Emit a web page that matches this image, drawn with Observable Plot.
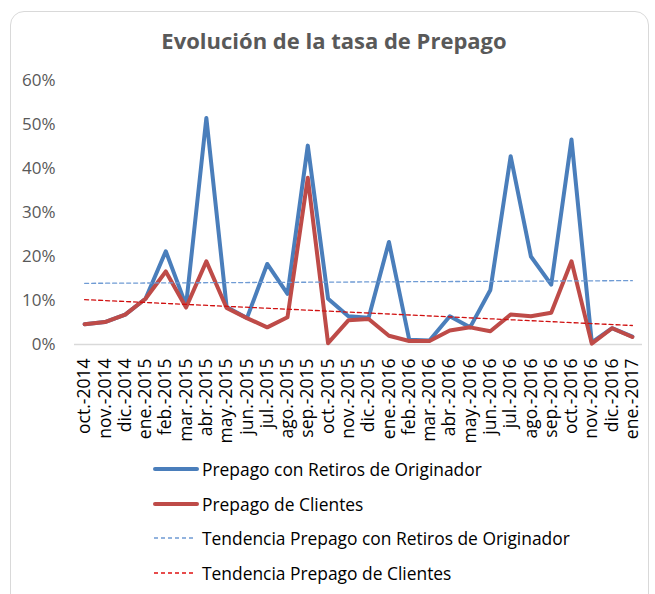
<!DOCTYPE html>
<html>
<head>
<meta charset="utf-8">
<script src="https://cdn.jsdelivr.net/npm/d3@7"></script>
<script src="https://cdn.jsdelivr.net/npm/@observablehq/plot@0.6"></script>
<style>
  body { margin: 0; background: #fff; }
  #wrap { position: relative; width: 655px; height: 594px; overflow: hidden; font-family: "Open Sans", sans-serif; }
  #frame { position: absolute; left: 10px; top: 11px; width: 639px; height: 600px; border: 1px solid #d9d9d9; border-radius: 14px; box-sizing: border-box; }
  #title { position: absolute; left: 0; width: 668px; top: 29px; line-height: 22px; text-align: center; font-weight: bold; font-size: 22px; color: #595959; }
  #chart { position: absolute; left: 0; top: 0; }
  #chart g[aria-label="y-axis tick label"] { font-size: 17px; }
  #chart g[aria-label="x-axis tick label"] { font-size: 17.5px; }
  .leg { position: absolute; left: 153px; height: 30px; display: flex; align-items: center; font-size: 17.4px; color: #000; }
  .leg svg { margin-right: 3px; }
</style>
</head>
<body>
<div id="wrap">
  <div id="frame"></div>
  <div id="title">Evolución de la tasa de Prepago</div>
  <div id="chart"></div>
  <div id="legend"></div>
</div>
<script>
const months = ["oct.-2014","nov.-2014","dic.-2014","ene.-2015","feb.-2015","mar.-2015","abr.-2015","may.-2015","jun.-2015","jul.-2015","ago.-2015","sep.-2015","oct.-2015","nov.-2015","dic.-2015","ene.-2016","feb.-2016","mar.-2016","abr.-2016","may.-2016","jun.-2016","jul.-2016","ago.-2016","sep.-2016","oct.-2016","nov.-2016","dic.-2016","ene.-2017"];
const retiros = [4.6,5.1,6.8,10.4,21.2,8.9,51.5,8.5,6.0,18.3,11.5,45.2,10.4,6.4,6.1,23.3,1.1,0.9,6.4,3.9,12.4,42.8,20.0,13.6,46.6,0.5,3.7,1.8];
const clientes = [4.6,5.1,6.8,10.4,16.6,8.4,18.9,8.3,6.0,3.9,6.2,37.9,0.3,5.5,5.8,2.0,0.8,0.8,3.2,3.9,3.0,6.8,6.4,7.2,18.9,0.2,3.7,1.7];
const yTicks = [0,10,20,30,40,50,60];
const seriesNames = ["Prepago con Retiros de Originador","Prepago de Clientes","Tendencia Prepago con Retiros de Originador","Tendencia Prepago de Clientes"];
const colors = ["#4a7ebb","#be4b48","#6f9bd4","#e01010"];

const table = months.map((m, i) => ({i, m, retiros: retiros[i], clientes: clientes[i]}));

const chart = Plot.plot({
  width: 655,
  height: 440,
  marginTop: 80,
  marginBottom: 96,
  marginLeft: 74,
  marginRight: 13,
  style: {background: "transparent", overflow: "visible", fontFamily: "'Open Sans', sans-serif"},
  x: {domain: [-0.5, 27.5], label: null},
  y: {domain: [0, 60], label: null},
  marks: [
    Plot.ruleY([0], {stroke: "#d9d9d9", strokeWidth: 1.5}),
    Plot.axisY(yTicks, {tickSize: 0, tickPadding: 19, tickFormat: d => d + "%", fill: "#595959", label: null}),
    Plot.axisX(d3.range(months.length), {tickSize: 0, tickPadding: 14, tickRotate: -90, tickFormat: i => months[i], fill: "#000", label: null}),
    Plot.line(table, {x: "i", y: "retiros", stroke: colors[0], strokeWidth: 4}),
    Plot.line(table, {x: "i", y: "clientes", stroke: colors[1], strokeWidth: 4}),
    Plot.linearRegressionY(table, {x: "i", y: "retiros", stroke: colors[2], strokeWidth: 1.3, strokeDasharray: "4,3", ci: 0}),
    Plot.linearRegressionY(table, {x: "i", y: "clientes", stroke: "#d01010", strokeWidth: 1.3, strokeDasharray: "4,3", ci: 0})
  ]
});
document.getElementById("chart").appendChild(chart);

const legend = document.getElementById("legend");
const rowY = [454, 489, 523, 558];
seriesNames.forEach((name, k) => {
  const row = document.createElement("div");
  row.className = "leg";
  row.style.top = rowY[k] + "px";
  const dashed = k >= 2;
  row.innerHTML = `<svg width="46" height="10"><line x1="${dashed ? 1 : 2}" x2="${dashed ? 41 : 44}" y1="5" y2="5" stroke="${colors[k]}" stroke-width="${dashed ? 1.3 : 4}" ${dashed ? 'stroke-dasharray="4,3"' : 'stroke-linecap="round"'}/></svg><span>${name}</span>`;
  legend.appendChild(row);
});
</script>
</body>
</html>
